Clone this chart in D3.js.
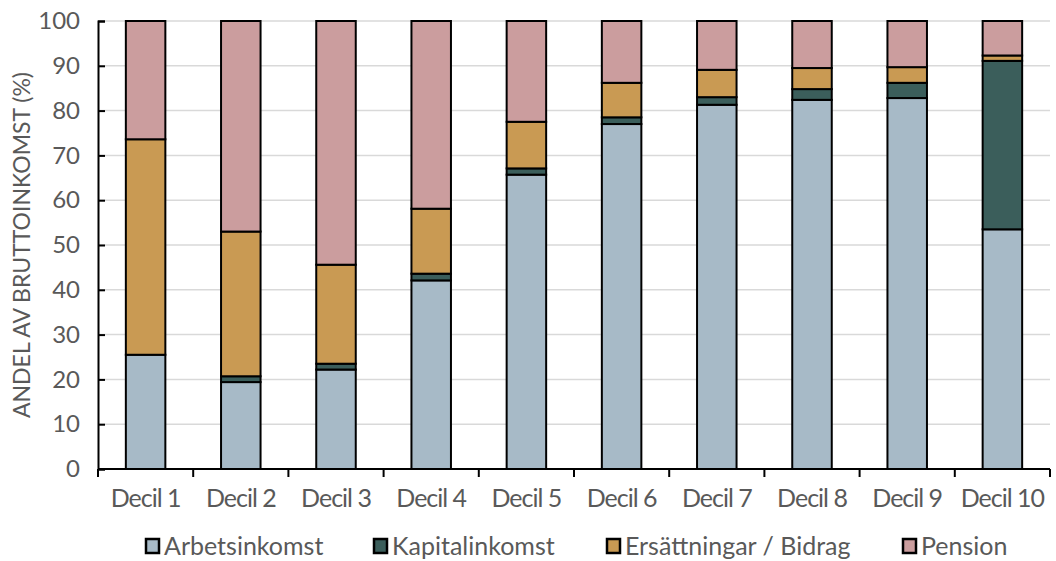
<!DOCTYPE html>
<html><head><meta charset="utf-8">
<script src="https://cdn.jsdelivr.net/npm/d3@7"></script>
<style>body{margin:0;background:#fff}svg{display:block}</style>
</head><body>
<svg id="c" width="1056" height="561"></svg>
<script>
const categories = ["Decil 1","Decil 2","Decil 3","Decil 4","Decil 5","Decil 6","Decil 7","Decil 8","Decil 9","Decil 10"];
const seriesNames = ["Arbetsinkomst","Kapitalinkomst","Ersättningar / Bidrag","Pension"];
const arbetsinkomst = [25.5,19.4,22.2,42.1,65.7,77.0,81.3,82.4,82.8,53.5];
const kapitalinkomst = [0.0,1.3,1.3,1.5,1.4,1.5,1.7,2.4,3.4,37.6];
const ersattningar = [48.1,32.3,22.1,14.5,10.4,7.7,6.1,4.7,3.5,1.2];
const pension = [26.4,47.0,54.4,41.9,22.5,13.8,10.9,10.5,10.3,7.7];
const yTicks = [0,10,20,30,40,50,60,70,80,90,100];
const colors = ["#a7bac7","#3b5e5b","#c99a53","#cb9d9e"];

const svg = d3.select("#c");
const m = {l:98, r:1050, t:21, b:469};
const x = d3.scaleBand().domain(categories).range([m.l, m.r]).paddingInner(0.585).paddingOuter(0.2925);
const xb = d3.scaleBand().domain(categories).range([m.l, m.r]);
const y = d3.scaleLinear().domain([0,100]).range([m.b, m.t]);
const font = "Lato, 'Open Sans', sans-serif";
const grey = "#595959";

// gridlines
svg.append("g").selectAll("line").data(yTicks.filter(d=>d>0)).join("line")
  .attr("x1", m.l).attr("x2", m.r).attr("y1", d=>y(d)).attr("y2", d=>y(d))
  .attr("stroke","#d9d9d9").attr("stroke-width",1.5);

const data = categories.map((c,i)=>({cat:c, "Arbetsinkomst":arbetsinkomst[i], "Kapitalinkomst":kapitalinkomst[i], "Ersättningar / Bidrag":ersattningar[i], "Pension":pension[i]}));
const stack = d3.stack().keys(seriesNames)(data);

svg.append("g").selectAll("g").data(stack).join("g")
  .attr("fill",(d,i)=>colors[i])
  .selectAll("rect").data(d=>d.filter(p=>p[1]-p[0]>0)).join("rect")
  .attr("x", d=>x(d.data.cat)).attr("width", x.bandwidth())
  .attr("y", d=>y(d[1])).attr("height", d=>y(d[0])-y(d[1]))
  .attr("stroke","#000").attr("stroke-width",2);

// y axis
const ya = svg.append("g").attr("transform",`translate(${m.l},0)`)
  .call(d3.axisLeft(y).tickValues(yTicks).tickSize(-7).tickPadding(18));
ya.select(".domain").attr("stroke","#000").attr("stroke-width",2);
ya.selectAll(".tick line").attr("stroke","#000").attr("stroke-width",2);
ya.selectAll("text").attr("font-family",font).attr("font-size",24).attr("fill",grey);

// x axis
const xa = svg.append("g").attr("transform",`translate(0,${m.b})`)
  .call(d3.axisBottom(x).tickSize(0).tickPadding(20));
xa.select(".domain").remove();
xa.append("line").attr("x1",m.l).attr("x2",m.r).attr("stroke","#000").attr("stroke-width",2);
xa.selectAll(".tick text").attr("font-family",font).attr("font-size",25).attr("letter-spacing","-1px").attr("fill",grey);
xa.append("g").selectAll("line").data(categories.map(c=>xb(c)).concat([m.r])).join("line")
  .attr("x1",d=>d).attr("x2",d=>d).attr("y1",0).attr("y2",8)
  .attr("stroke","#000").attr("stroke-width",2);

// y title
svg.append("text").attr("transform",`translate(22,${(m.t+m.b)/2}) rotate(-90)`)
  .attr("text-anchor","middle").attr("dy","0.35em").attr("font-family",font).attr("font-size",23).attr("fill",grey)
  .text("ANDEL AV BRUTTOINKOMST (%)");

// legend
const legX = [146, 374, 607, 903];
const leg = svg.append("g").selectAll("g").data(seriesNames).join("g")
  .attr("transform",(d,i)=>`translate(${legX[i]},546)`);
leg.append("rect").attr("x",0).attr("y",-7).attr("width",13).attr("height",14)
  .attr("fill",(d,i)=>colors[i]).attr("stroke","#000").attr("stroke-width",2.5);
leg.append("text").attr("x",18).attr("y",0).attr("dy","0.35em")
  .attr("font-family",font).attr("font-size",25).attr("fill",grey).text(d=>d);
</script>
</body></html>
